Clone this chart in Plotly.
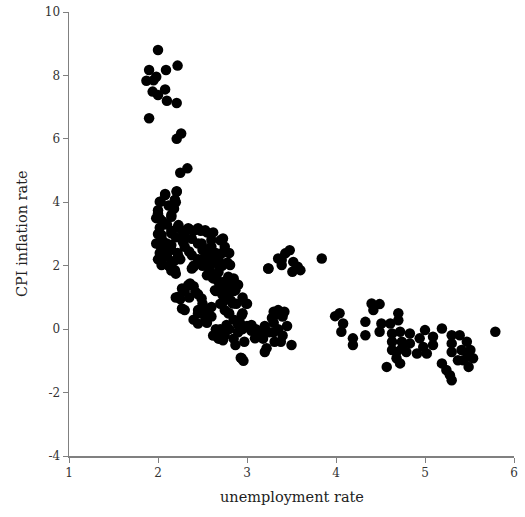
import plotly.graph_objects as go

unemployment = [
    2.00, 1.90, 2.09, 2.22, 1.87, 1.98, 1.95, 1.94, 2.00, 2.08, 2.10, 2.21, 1.90,
    2.26, 2.21, 2.33, 2.25, 2.21, 2.08, 2.03, 2.19,
    2.00, 1.98, 2.05, 2.02, 2.10, 2.15, 2.18, 2.20, 2.12,
    2.00, 2.05, 1.98, 2.08, 2.02, 2.10, 2.00, 2.05, 2.12, 2.15, 2.20, 2.18, 2.10, 2.15, 2.22,
    2.25, 2.20, 2.15, 2.22, 2.28, 2.35, 2.40, 2.48, 2.55, 2.62, 2.30, 2.38, 2.30, 2.35, 2.28,
    2.45, 2.50, 2.55, 2.60, 2.65, 2.70, 2.68, 2.75, 2.72, 2.80, 2.62, 2.58, 2.50, 2.45, 2.40,
    2.55, 2.62, 2.68, 2.72, 2.78, 2.75, 2.70, 2.65, 2.72, 2.80, 2.78, 2.85, 2.82, 2.88, 2.85,
    2.90, 2.95, 2.70, 2.75, 2.80, 2.85, 2.92, 2.95, 3.00, 2.90, 2.95, 3.00, 3.05, 2.97, 2.93,
    2.96, 3.10, 3.15, 3.20, 3.25, 3.22, 3.18, 2.80, 2.85, 2.75, 2.70,
    2.30, 2.35, 2.40, 2.45, 2.25, 2.50, 2.55, 2.45, 2.40, 2.55, 2.60, 2.30, 2.20, 2.65, 2.68, 2.62,
    3.48, 3.43, 3.35, 3.24, 3.39, 3.52, 3.51, 3.60, 3.84, 3.57,
    3.30, 3.35, 3.40, 3.30, 3.35, 3.40, 3.45, 3.50, 3.38, 3.42, 3.28, 3.30,
    4.04, 3.99, 4.08, 4.06, 4.19, 4.19, 4.33, 4.33, 4.40, 4.49, 4.42, 4.51, 4.61, 4.70, 4.70,
    4.49, 4.63, 4.72, 4.83, 4.63, 4.74, 4.83, 4.63, 4.74, 4.72, 4.57, 4.68, 4.91, 4.98, 4.94,
    5.00, 5.09, 5.09, 5.19, 5.30, 5.39, 5.30, 5.30, 5.41, 5.47, 5.54, 5.43, 5.49, 5.19, 5.24,
    5.28, 5.30, 5.79, 4.68, 4.79, 5.02, 5.37, 5.51, 5.48,
    2.08, 2.21, 2.02, 2.19, 2.00, 2.17, 2.02, 2.15, 2.23, 2.34, 2.45, 2.53, 2.04, 2.15, 2.30,
    2.02, 2.15, 2.49, 2.60, 2.73, 2.58, 2.75, 2.06, 2.23, 2.38, 2.51, 2.64, 2.04, 2.19, 2.40,
    2.56, 2.68, 2.81, 2.36, 2.66, 2.79, 2.87,
    2.38, 2.27, 2.34, 2.42, 2.23, 2.27, 2.49, 2.45, 2.53, 2.45, 2.60, 2.64, 2.68, 2.79, 2.75,
    2.87, 2.73, 2.84, 2.99, 2.79, 2.94, 2.77, 2.90, 3.05, 2.73, 2.87, 2.94, 3.09, 3.20, 3.20,
    3.31, 3.31, 3.24, 3.39, 2.60, 2.56,
]
inflation = [
    8.80, 8.17, 8.17, 8.31, 7.83, 7.96, 7.85, 7.49, 7.38, 7.56, 7.20, 7.13, 6.65,
    6.17, 6.00, 5.07, 4.93, 4.33, 4.26, 4.02, 4.07,
    3.65, 3.50, 3.40, 3.20, 3.30, 3.60, 3.80, 4.00, 3.90,
    3.00, 2.80, 2.70, 2.60, 2.40, 2.30, 2.20, 2.05, 2.00, 1.85, 1.75, 2.15, 2.70, 2.50, 2.40,
    2.20, 2.90, 3.10, 3.20, 3.10, 3.15, 3.10, 3.10, 3.05, 3.05, 2.95, 2.85, 2.60, 2.45, 2.75,
    2.70, 2.50, 2.30, 2.60, 2.40, 2.80, 2.20, 2.60, 2.40, 2.40, 2.10, 1.90, 2.00, 2.20, 2.00,
    1.70, 1.60, 1.80, 2.00, 2.10, 1.50, 1.40, 1.20, 1.10, 1.30, 1.00, 1.20, 0.90, 0.80, 1.60,
    1.40, 1.00, 0.80, 0.60, 0.50, 0.30, 0.20, 0.50, 0.80, -0.10, 0.00, 0.10, -0.05, -0.40, -0.90,
    -1.00, 0.00, -0.20, 0.10, -0.10, -0.60, -0.30, 0.00, -0.30, -0.20, 0.00,
    1.20, 1.00, 1.35, 1.10, 0.95, 0.80, 0.60, 0.50, 0.30, 0.20, 0.40, 0.60, 1.00, 0.00, -0.30, -0.20,
    2.49, 2.39, 2.23, 1.91, 2.02, 2.12, 1.81, 1.86, 2.23, 1.97,
    0.55, 0.60, 0.40, 0.20, 0.00, -0.20, 0.10, -0.50, -0.40, 0.55, 0.35, -0.10,
    0.50, 0.41, 0.18, -0.08, -0.29, -0.50, -0.19, 0.23, 0.81, 0.79, 0.60, 0.18, 0.18, 0.50, 0.28,
    -0.08, -0.14, -0.08, -0.14, -0.40, -0.40, -0.45, -0.66, -0.61, -1.08, -1.19, -0.92, -0.77, -0.56, -0.29,
    -0.03, -0.24, -0.50, 0.02, -0.19, -0.19, -0.45, -0.72, -0.66, -0.40, -0.92, -0.98, -1.19, -1.08, -1.29,
    -1.45, -1.61, -0.08, -0.72, -0.72, -0.77, -0.98, -0.66, -0.87,
    4.23, 4.35, 4.02, 4.07, 3.75, 3.81, 3.49, 3.54, 3.28, 3.18, 3.18, 3.12, 2.97, 3.02, 2.86,
    2.65, 2.65, 2.70, 2.81, 2.86, 2.55, 2.44, 2.33, 2.28, 2.33, 2.23, 2.28, 2.02, 1.86, 1.97,
    1.97, 2.02, 2.02, 1.44, 1.60, 1.65, 1.44,
    1.91, 1.28, 1.39, 1.18, 1.02, 0.65, 0.97, 0.60, 0.39, 0.18, 0.70, 1.23, 1.49, 1.55, 1.18,
    1.23, 0.86, 0.81, 0.81, 0.50, 0.44, 0.13, 0.13, 0.13, -0.35, -0.50, -0.92, -0.29, -0.72, -0.08,
    0.44, -0.40, 1.91, 2.18, 1.70, 2.12,
]

x_ticks = [1, 2, 3, 4, 5, 6]
x_tick_labels = ["1", "2", "3", "4", "5", "6"]
y_ticks = [-4, -2, 0, 2, 4, 6, 8, 10]
y_tick_labels = ["-4", "-2", "0", "2", "4", "6", "8", "10"]

font_family = "DejaVu Serif"

fig = go.Figure(
    go.Scatter(
        x=unemployment,
        y=inflation,
        mode="markers",
        marker=dict(size=10.5, color="black", line=dict(width=0)),
        showlegend=False,
        cliponaxis=False,
        hoverinfo="skip",
    )
)

axis_common = dict(
    showgrid=False,
    zeroline=False,
    showline=True,
    linecolor="#808080",
    linewidth=1.5,
    ticks="outside",
    ticklen=5,
    tickwidth=1,
    tickcolor="#808080",
    tickfont=dict(family=font_family, size=12, color="#333333"),
    automargin=False,
)

fig.update_layout(
    width=525,
    height=517,
    margin=dict(l=69, r=11, t=12, b=61, autoexpand=False),
    paper_bgcolor="white",
    plot_bgcolor="white",
    font=dict(family=font_family, color="#222222"),
    xaxis=dict(range=[1, 6], tickvals=x_ticks, ticktext=x_tick_labels, **axis_common),
    yaxis=dict(range=[-4, 10], tickvals=y_ticks, ticktext=y_tick_labels, **axis_common),
    annotations=[
        dict(
            text="unemployment rate", xref="paper", yref="paper",
            x=0.5, y=0, yshift=-41, xanchor="center", yanchor="middle",
            showarrow=False, font=dict(family=font_family, size=14.5, color="#222222"),
        ),
        dict(
            text="CPI inflation rate", xref="paper", yref="paper",
            x=0, y=0.5, xshift=-47, xanchor="center", yanchor="middle", textangle=-90,
            showarrow=False, font=dict(family=font_family, size=14.5, color="#222222"),
        ),
    ],
)

fig.write_html(
    "out.html",
    config={"displayModeBar": False, "staticPlot": True},
    post_script="document.body.style.margin='0';document.body.style.overflow='hidden';",
)
